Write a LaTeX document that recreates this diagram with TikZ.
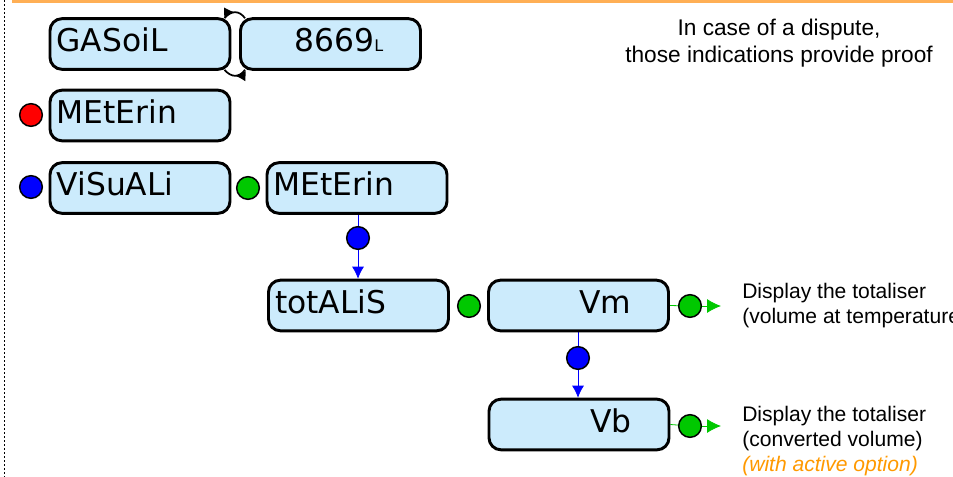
\documentclass[tikz,border=0pt]{standalone}
\usepackage{fontspec}
\setmainfont{Liberation Sans}
\newfontfamily\lcdfont{DejaVu Sans}
\usetikzlibrary{calc}
\usetikzlibrary{backgrounds}
\usetikzlibrary{arrows.meta}
\usetikzlibrary{decorations.markings}

\definecolor{boxblue}{RGB}{204,235,252}
\definecolor{dotgreen}{RGB}{0,200,0}
\definecolor{noteorange}{RGB}{255,153,0}
\definecolor{rulerorange}{RGB}{255,175,85}

\begin{document}
\begin{tikzpicture}[x=0.75pt,y=-0.75pt,
	screen/.style={draw,line width=2.2pt,rounded corners=9pt,fill=boxblue,
		minimum width=135pt,minimum height=38pt,
		font=\lcdfont\fontsize{23.5}{23.5}\selectfont,text height=17pt,text depth=5.5pt},
	lft/.style={screen,inner xsep=5pt,text width=125pt,align=left},
	rgt/.style={screen,inner xsep=28pt,text width=79pt,align=right},
	dot/.style={circle,draw,line width=1.1pt,minimum size=17pt,inner sep=0pt},
	note/.style={font=\fontsize{15.8}{19}\selectfont,align=left,anchor=west,inner sep=0pt},
	midarrow/.style={postaction={decorate},decoration={markings,
		mark=at position 0.5 with {\arrow{Latex[length=8pt,width=8pt]}}}}]

	\useasboundingbox (0,0) rectangle (953,477);

	% frame of the page
	\draw[dash pattern=on 1.5pt off 1.5pt,line width=0.5pt] (4,0) -- (4,477);
	\draw[rulerorange,line width=2.4pt] (12,1.5) -- (953,1.5);

	% display screens
	\node[lft] (gas) at (140,44) {GASoiL};
	\node[rgt] (vol) at (330.5,44) {8669{\fontsize{12}{12}\selectfont L}};
	\node[lft] (met) at (140,115.5) {MEtErin};
	\node[lft] (vis) at (140,188) {ViSuALi};
	\node[lft] (met2) at (357,188) {MEtErin};
	\node[lft] (tot) at (358.5,305.5) {totALiS};
	\node[rgt] (vm) at (578.5,305.5) {Vm};
	\node[rgt] (vb) at (579,424.5) {Vb};

	% keys
	\foreach \n/\c/\x/\y in {r1/red/31/115, b1/blue/31/187, g1/dotgreen/248/188,
		b2/blue/358/238, g2/dotgreen/469/306, g3/dotgreen/690/306,
		b3/blue/578/358, g4/dotgreen/690/426}
	{
		\node[dot,fill=\c] (\n) at (\x,\y) {};
	}

	\coordinate (e1) at (721,306);
	\coordinate (e2) at (721,426);

	\begin{scope}[on background layer]
		\draw[line width=1.3pt,midarrow] ($(gas.north east)+(-7,1)$)
			.. controls ($(gas.north east)+(0,-7)$) and ($(vol.north west)+(0,-7)$)
			.. ($(vol.north west)+(6,1)$);
		\draw[line width=1.3pt,midarrow] ($(vol.south west)+(6,-1)$)
			.. controls ($(vol.south west)+(0,7)$) and ($(gas.south east)+(0,7)$)
			.. ($(gas.south east)+(-7,-1)$);

		\draw[blue,line width=0.6pt] (met2.south -| b2) -- (b2);
		\draw[blue,line width=0.6pt,-{Latex[length=9pt,width=9pt]}] (b2) -- (tot.north -| b2);
		\draw[blue,line width=0.6pt] (vm.south -| b3) -- (b3);
		\draw[blue,line width=0.6pt,-{Latex[length=9pt,width=9pt]}] (b3) -- (vb.north -| b3);

		\draw[dotgreen,line width=0.6pt] (vm.east) -- (g3);
		\draw[dotgreen,line width=0.6pt,-{Latex[length=10.5pt,width=10.5pt]}] (g3) -- (e1);
		\draw[dotgreen,line width=0.6pt] (vb.east) -- (g4);
		\draw[dotgreen,line width=0.6pt,-{Latex[length=10.5pt,width=10.5pt]}] (g4) -- (e2);
	\end{scope}

	% notes
	\node[align=center,font=\fontsize{17}{20.5}\selectfont] (proof) at (779,43)
		{In case of a dispute,\\those indications provide proof};
	\node[note] (n1) at (742,305.5) {Display the totaliser\\(volume at temperature)};
	\node[note] (n2) at (742,441) {Display the totaliser\\(converted volume)\\
		\textcolor{noteorange}{\itshape (with active option)}};

\end{tikzpicture}
\end{document}
